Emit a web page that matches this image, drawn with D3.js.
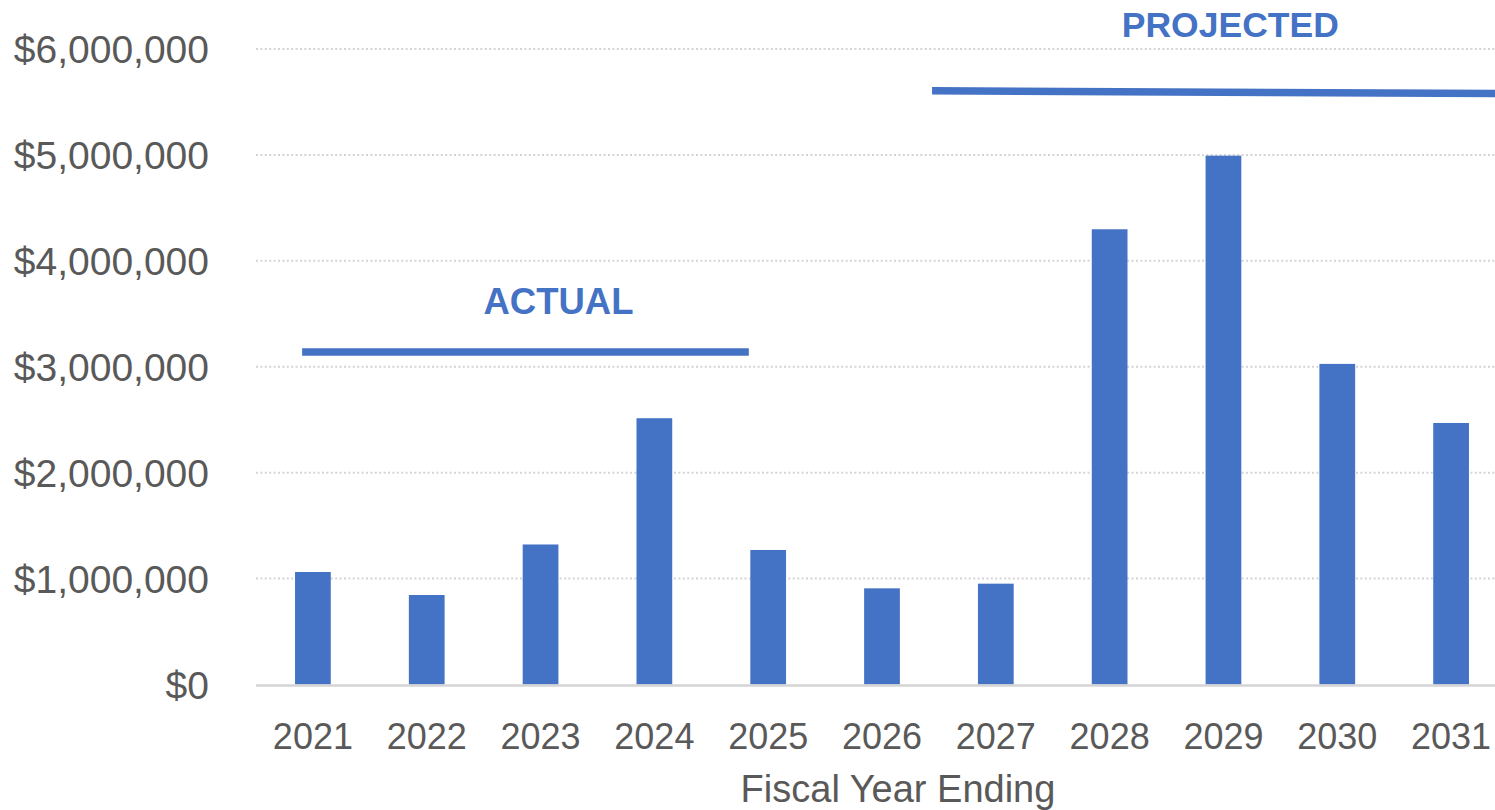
<!DOCTYPE html>
<html>
<head>
<meta charset="utf-8">
<script src="https://cdn.jsdelivr.net/npm/d3@7"></script>
<style>
  html, body { margin: 0; padding: 0; background: #fff; overflow: hidden; }
  svg { display: block; }
</style>
</head>
<body>
<svg id="chart" width="1495" height="810"></svg>
<script>
// Fiscal years and annual amounts (USD)
const years = ["2021", "2022", "2023", "2024", "2025", "2026", "2027", "2028", "2029", "2030", "2031"];
const amounts = [1062000, 845000, 1322000, 2514000, 1270000, 908000, 952000, 4298000, 4993000, 3027000, 2469000];

// Value axis ticks
const yTicks = [0, 1000000, 2000000, 3000000, 4000000, 5000000, 6000000];

// Period annotations: span in category-index units, line level and label level in dollars
const periodLabels = ["ACTUAL", "PROJECTED"];
const periodStart = [-0.095, 5.44];
const periodEnd = [3.83, 10.5];
const periodLineStart = [3140000, 5605000];
const periodLineEnd = [3140000, 5580000];
const periodLabelValue = [3500000, 6110000];
const periodLabelCenter = [2.158, 8.06];

const blue = "#4472C4";
const textGrey = "#595959";
const gridGrey = "#D4D4D4";

const svg = d3.select("#chart");

const plotLeft = 256, plotRight = 1508;
const plotTop = 49, plotBottom = 684.5;

const x = d3.scaleBand().domain(years).range([plotLeft, plotRight]).paddingInner(0.686).paddingOuter(0.343);
const xi = d3.scaleLinear().domain([-0.5, years.length - 0.5]).range([plotLeft, plotRight]);
const y = d3.scaleLinear().domain([0, 6000000]).range([plotBottom, plotTop]);

const money = v => "$" + d3.format(",")(v);

// Dotted horizontal gridlines
svg.append("g")
  .selectAll("line")
  .data(yTicks.filter(t => t > 0))
  .join("line")
  .attr("x1", plotLeft).attr("x2", 1495)
  .attr("y1", d => y(d)).attr("y2", d => y(d))
  .attr("stroke", gridGrey)
  .attr("stroke-width", 2)
  .attr("stroke-dasharray", "2,2.4");

// Value axis labels
const yAxis = d3.axisLeft(y).tickValues(yTicks).tickFormat(money).tickSize(0).tickPadding(0);
const yg = svg.append("g").attr("transform", "translate(209,0)").call(yAxis);
yg.select(".domain").remove();
yg.selectAll("text")
  .attr("fill", textGrey)
  .attr("font-family", "'Liberation Sans', Arial, sans-serif")
  .attr("font-size", 39)
  .attr("dy", "0.35em");

// Bars
svg.append("g")
  .selectAll("rect")
  .data(years.map((yr, i) => ({ yr, v: amounts[i] })))
  .join("rect")
  .attr("x", d => x(d.yr))
  .attr("width", x.bandwidth())
  .attr("y", d => y(d.v))
  .attr("height", d => y(0) - y(d.v))
  .attr("fill", blue);

// Category axis
const xAxis = d3.axisBottom(x).tickSize(0).tickPadding(0);
const xg = svg.append("g").attr("transform", `translate(0,${plotBottom})`).call(xAxis);
xg.select(".domain").remove();
xg.selectAll("text")
  .attr("fill", textGrey)
  .attr("font-family", "'Liberation Sans', Arial, sans-serif")
  .attr("font-size", 36)
  .attr("dy", 0)
  .attr("y", 64);

// Baseline
svg.append("line")
  .attr("x1", plotLeft).attr("x2", 1495)
  .attr("y1", y(0) + 1).attr("y2", y(0) + 1)
  .attr("stroke", gridGrey)
  .attr("stroke-width", 2.5);

// Axis title
svg.append("text")
  .attr("x", 898).attr("y", 802)
  .attr("text-anchor", "middle")
  .attr("fill", textGrey)
  .attr("font-family", "'Liberation Sans', Arial, sans-serif")
  .attr("font-size", 38)
  .text("Fiscal Year Ending");

// Period markers
const periods = periodLabels.map((label, i) => ({
  label,
  s: periodStart[i], e: periodEnd[i],
  ls: periodLineStart[i], le: periodLineEnd[i],
  lv: periodLabelValue[i], lc: periodLabelCenter[i]
}));

svg.append("g")
  .selectAll("line")
  .data(periods)
  .join("line")
  .attr("x1", d => xi(d.s)).attr("x2", d => xi(d.e))
  .attr("y1", d => y(d.ls)).attr("y2", d => y(d.le))
  .attr("stroke", blue)
  .attr("stroke-width", 7.5);

svg.append("g")
  .selectAll("text")
  .data(periods)
  .join("text")
  .attr("x", d => xi(d.lc))
  .attr("y", d => y(d.lv))
  .attr("text-anchor", "middle")
  .attr("fill", blue)
  .attr("font-family", "'Liberation Sans', Arial, sans-serif")
  .attr("font-weight", "bold")
  .attr("font-size", d => d.label === "ACTUAL" ? 36.5 : 35.5)
  .text(d => d.label);
</script>
</body>
</html>
